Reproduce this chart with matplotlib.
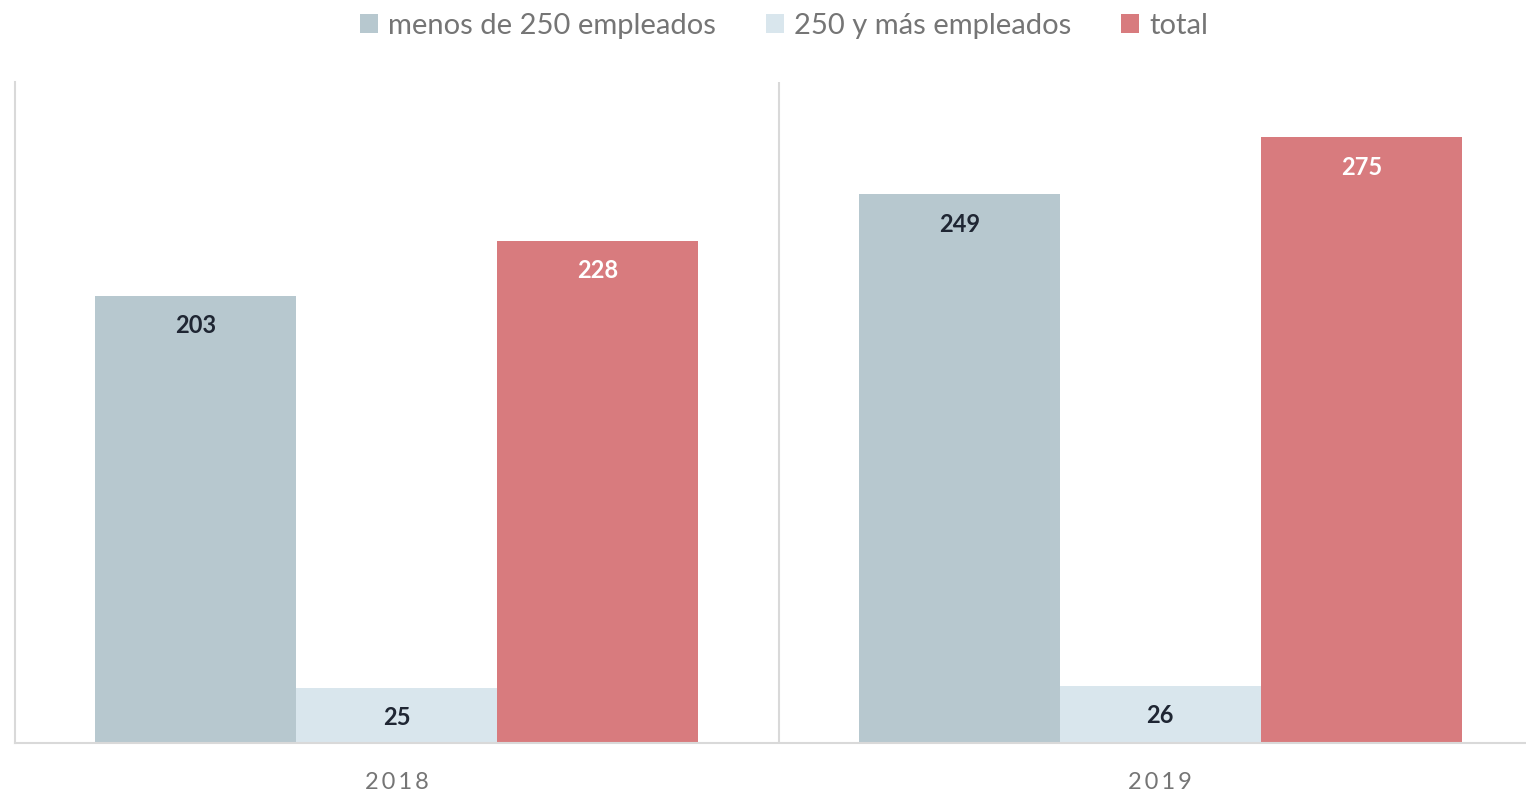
import matplotlib
matplotlib.use("Agg")
import matplotlib.pyplot as plt
import numpy as np

plt.rcParams['font.family'] = ['Lato', 'DejaVu Sans']

categories = ["2018", "2019"]
series_names = ["menos de 250 empleados", "250 y más empleados", "total"]
menos_250 = [203, 249]
mas_250 = [25, 26]
total = [228, 275]

colors = ["#b7c8cf", "#d9e6ed", "#d87b7e"]
label_colors = ["#1f2633", "#1f2633", "#ffffff"]

fig = plt.figure(figsize=(15.26, 7.93), dpi=100)
ax = fig.add_axes([15/1526, 50/793, 1527/1526, 661/793])

x = np.arange(len(categories))
w = 0.2633
offsets = [-w, 0, w]
handles = []
for vals, off, c, lc, name in zip([menos_250, mas_250, total], offsets, colors, label_colors, series_names):
    bars = ax.bar(x + off, vals, width=w, color=c, label=name, zorder=2)
    handles.append(bars)
    for b, v in zip(bars, vals):
        ax.annotate(str(v), (b.get_x() + b.get_width()/2, v), xytext=(0, -30),
                    textcoords="offset pixels",
                    ha="center", va="center", fontsize=17, fontweight="bold", color=lc)

ax.set_xlim(-0.5, 1.5)
ax.set_ylim(0, 300)
ax.set_yticks([])
ax.set_xticks(x)
ax.set_xticklabels(["\u2009".join(c) for c in categories], fontsize=17, color="#757575")
ax.tick_params(axis="x", length=0, pad=21)
for s in ["top", "right"]:
    ax.spines[s].set_visible(False)
ax.spines["left"].set_color("#d9d9d9")
ax.spines["bottom"].set_color("#d9d9d9")
ax.spines["left"].set_linewidth(1.5)
ax.spines["bottom"].set_linewidth(1.5)
ax.axvline(0.5, color="#d9d9d9", lw=1.5, zorder=1)

fig.legend(handles=handles, loc="upper center", bbox_to_anchor=(0.5138, 1.017),
           ncol=3, frameon=False, fontsize=21, labelcolor="#757575",
           handlelength=0.6, handleheight=0.6, handletextpad=0.35, columnspacing=1.73)

fig.savefig("out.png", dpi=100)
